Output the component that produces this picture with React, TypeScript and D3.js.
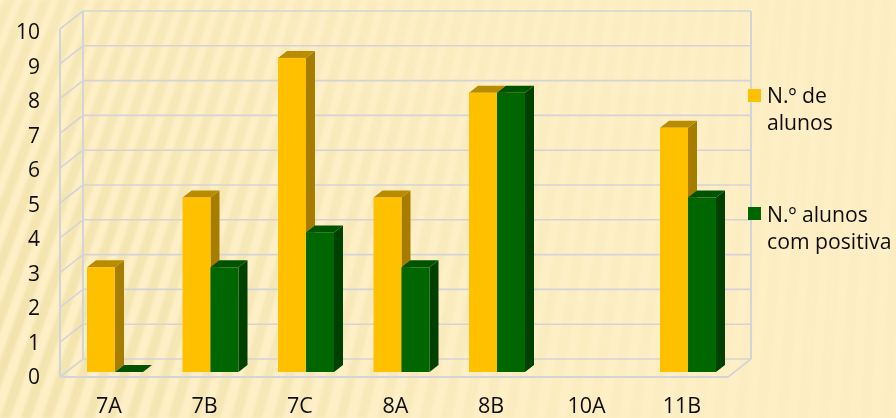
import React from "react";
import * as d3 from "d3";

const categories = ["7A", "7B", "7C", "8A", "8B", "10A", "11B"];
const alunos: (number | null)[] = [3, 5, 9, 5, 8, null, 7];
const positiva: (number | null)[] = [0, 3, 4, 3, 8, null, 5];
const yTicks = [0, 1, 2, 3, 4, 5, 6, 7, 8, 9, 10];
const legendAlunos = ["N.º de", "alunos"];
const legendPositiva = ["N.º alunos", "com positiva"];

const W = 896, H = 418;
const FONT = "'Open Sans', 'Noto Sans', sans-serif";
const dx = 9, dy = 7;

const x = d3.scaleBand<string>().domain(categories).range([39, 707.5]).paddingInner(0).paddingOuter(0);
const yBar = d3.scaleLinear().domain([0, 10]).range([372, 23]);
const yBack = d3.scaleLinear().domain([0, 10]).range([359, 11]);
const yFront = d3.scaleLinear().domain([0, 10]).range([377, 29]);
const yLabel = d3.scaleLinear().domain([0, 10]).range([377, 32]);
// how far a background stripe leans between bottom and top, by its position
const lean = d3.scaleLinear().domain([-150, 300, 896]).range([170, 110, 15]);

function Bar({ bx, w, v, front, top, side }: { bx: number; w: number; v: number; front: string; top: string; side: string }) {
  const y0 = yBar(0), y1 = yBar(v);
  const p = (pts: number[][]) => pts.map((q) => q.join(",")).join(" ");
  return (
    <g>
      <polygon points={p([[bx + w, y1], [bx + w + dx, y1 - dy], [bx + w + dx, y0 - dy], [bx + w, y0]])} fill={side} />
      <polygon points={p([[bx, y1], [bx + dx, y1 - dy], [bx + w + dx, y1 - dy], [bx + w, y1]])} fill={top} />
      {v > 0 && <rect x={bx} y={y1} width={w} height={y0 - y1} fill={front} />}
    </g>
  );
}

export default function App() {
  const bw = 28;
  const stripes = d3.range(-8, 48).map((i) => i * 21);
  return (
    <svg width={W} height={H} style={{ position: "absolute", left: 0, top: 0 }} fontFamily={FONT}>
      <defs>
        <radialGradient id="fade" gradientUnits="userSpaceOnUse" cx={0} cy={340} r={900}>
          <stop offset="0" stopColor="#fff" stopOpacity="1" />
          <stop offset="0.3" stopColor="#fff" stopOpacity="0.6" />
          <stop offset="0.6" stopColor="#fff" stopOpacity="0.22" />
          <stop offset="1" stopColor="#fff" stopOpacity="0.08" />
        </radialGradient>
        <mask id="fadeMask">
          <rect width={W} height={H} fill="url(#fade)" />
        </mask>
        <filter id="soft1" x="-5%" y="-5%" width="110%" height="110%">
          <feGaussianBlur stdDeviation="1.3" />
        </filter>
        <filter id="soft" x="-2%" y="-2%" width="104%" height="104%">
          <feGaussianBlur stdDeviation="0.4" />
        </filter>
      </defs>
      <rect width={W} height={H} fill="#FEEFC6" />
      <g mask="url(#fadeMask)">
        <g filter="url(#soft1)">
          {stripes.map((s) => (
            <polygon key={s} points={`${s},${H} ${s + 10},${H} ${s + 10 + lean(s)},0 ${s + lean(s)},0`} fill="#EBDB9C" opacity={0.6} />
          ))}
        </g>
      </g>
      <g filter="url(#soft)">
        <g stroke="#D3D4D5" strokeWidth={1.6} fill="none">
          {yTicks.map((t) => (
            <g key={t}>
              <line x1={83} x2={751} y1={yBack(t)} y2={yBack(t)} />
              <line x1={60} x2={83} y1={yFront(t)} y2={yBack(t)} />
            </g>
          ))}
          <line x1={83} x2={83} y1={11} y2={359} strokeWidth={2} />
          <line x1={60} x2={60} y1={29} y2={377} strokeWidth={2} />
          <line x1={751} x2={751} y1={11} y2={359} strokeWidth={2} />
          <line x1={60} x2={728} y1={377} y2={377} strokeWidth={2} />
          <line x1={728} x2={751} y1={377} y2={359} />
        </g>
        {categories.map((c, i) => {
          const b0 = (x(c) as number) + 48;
          return (
            <g key={c}>
              {alunos[i] != null && <Bar bx={b0} w={bw} v={alunos[i] as number} front="#FFC000" top="#B98C00" side="#A67D00" />}
              {positiva[i] != null && <Bar bx={b0 + bw} w={bw} v={positiva[i] as number} front="#006600" top="#005200" side="#003F00" />}
            </g>
          );
        })}
        <g fill="#111" fontSize={21} textAnchor="end">
          {yTicks.map((t) => (
            <text key={t} x={40} y={yLabel(t)} dy="0.35em">{t}</text>
          ))}
        </g>
        <g fill="#111" fontSize={21.5} textAnchor="middle">
          {categories.map((c) => (
            <text key={c} x={(x(c) as number) + 70} y={413}>{c}</text>
          ))}
        </g>
        <rect x={748} y={89} width={13} height={13} fill="#FFC000" />
        <rect x={748} y={207} width={13} height={13} fill="#006600" />
        <g fill="#111" fontSize={21.2}>
          {legendAlunos.map((l, i) => <text key={l} x={767} y={103 + i * 27}>{l}</text>)}
          {legendPositiva.map((l, i) => <text key={l} x={767} y={222 + i * 27}>{l}</text>)}
        </g>
      </g>
    </svg>
  );
}
